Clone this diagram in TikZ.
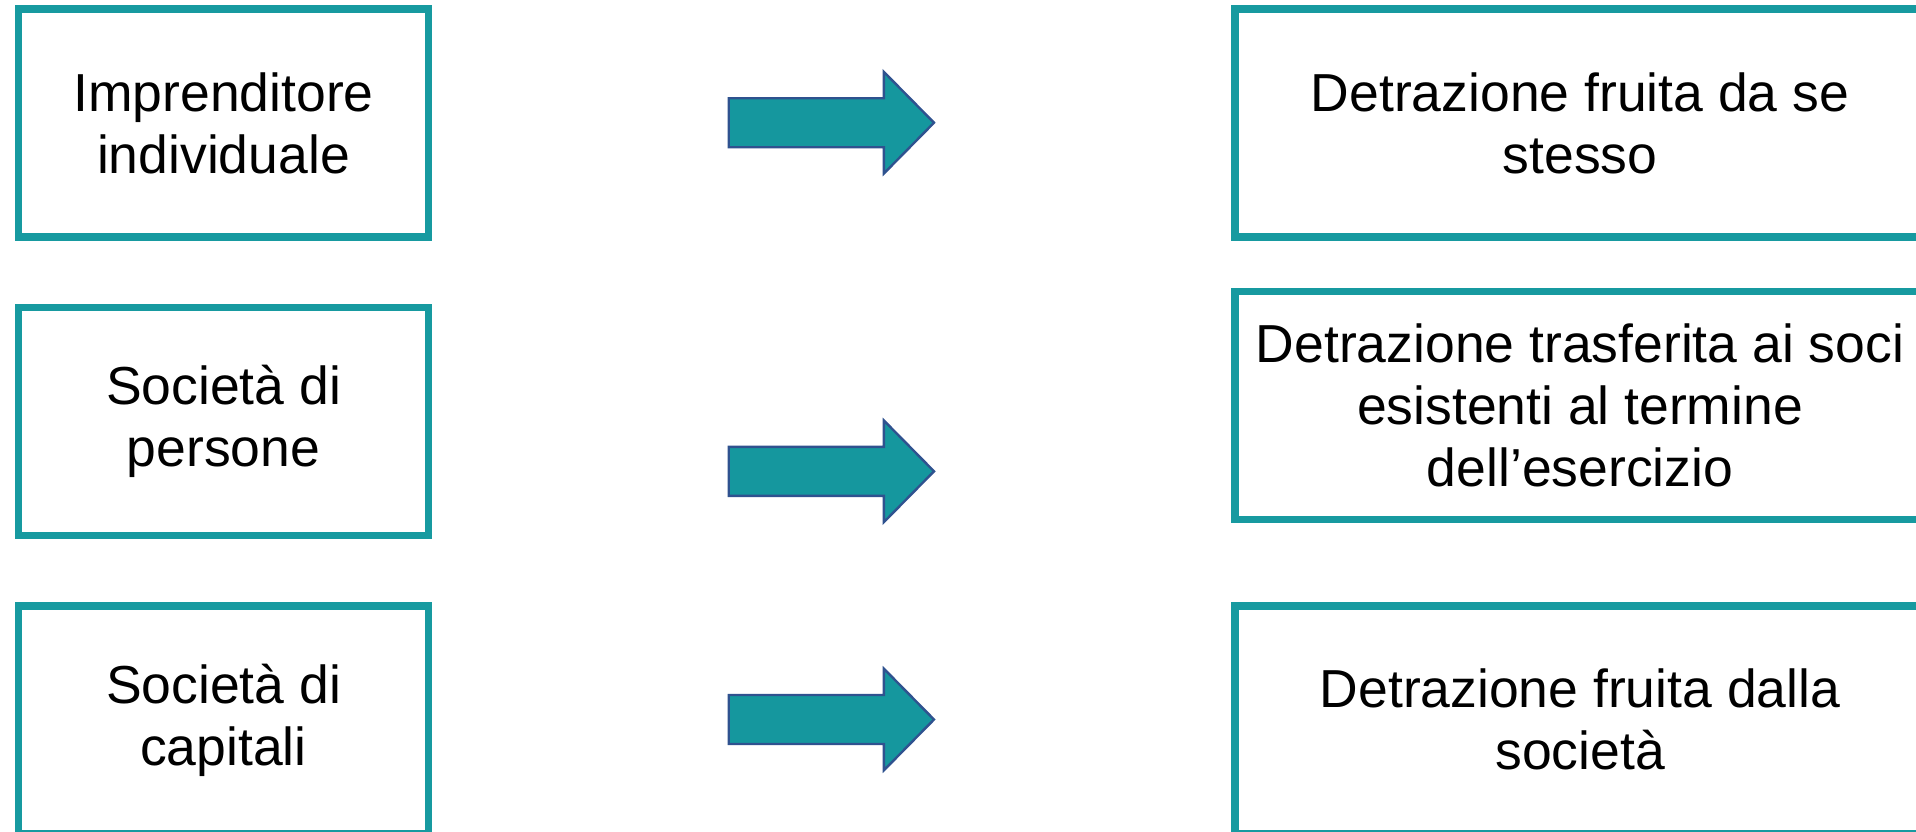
\documentclass[tikz,border=0pt]{standalone}
\usepackage{fontspec}
\setmainfont{Liberation Sans}
\definecolor{boxteal}{RGB}{23,154,160}
\definecolor{arrowfill}{RGB}{21,151,158}
\definecolor{arrowline}{RGB}{47,82,143}
\begin{document}
\begin{tikzpicture}[x=0.5pt,y=-0.5pt,
  boxnode/.style={draw=boxteal, line width=3.75pt, rectangle, align=center,
    font=\fontsize{26.75}{31}\selectfont, text=black, inner sep=0pt},
  leftbox/.style={boxnode, minimum width=204.9pt, minimum height=114pt},
  rightbox/.style={boxnode, minimum width=345.2pt, minimum height=114pt},
  arrowshape/.style={fill=arrowfill, draw=arrowline, line width=1.2pt, line join=miter}]
\useasboundingbox (0,0) rectangle (1916,831);
\node[leftbox] (l1) at (223.5,123) {Imprenditore\\individuale};
\node[leftbox] (l2) at (223.5,421.5) {Società di\\persone};
\node[leftbox] (l3) at (223.5,720.2) {Società di\\capitali};
\node[rightbox] (r1) at (1580,123) {Detrazione fruita da se\\stesso};
\node[rightbox] (r2) at (1580,405.4) {Detrazione trasferita ai soci\\esistenti al termine\\dell’esercizio};
\node[rightbox] (r3) at (1580,719.8) {Detrazione fruita dalla\\società};
\foreach \i/\c in {1/122.7,2/471.3,3/719.5}{
  \coordinate (tip\i) at (934,\c);
  \draw[arrowshape] (728.7,\c-24.5) -- (883.9,\c-24.5) -- (883.9,\c-50.8) -- (tip\i)
    -- (883.9,\c+50.8) -- (883.9,\c+24.5) -- (728.7,\c+24.5) -- cycle;
}
\end{tikzpicture}
\end{document}
